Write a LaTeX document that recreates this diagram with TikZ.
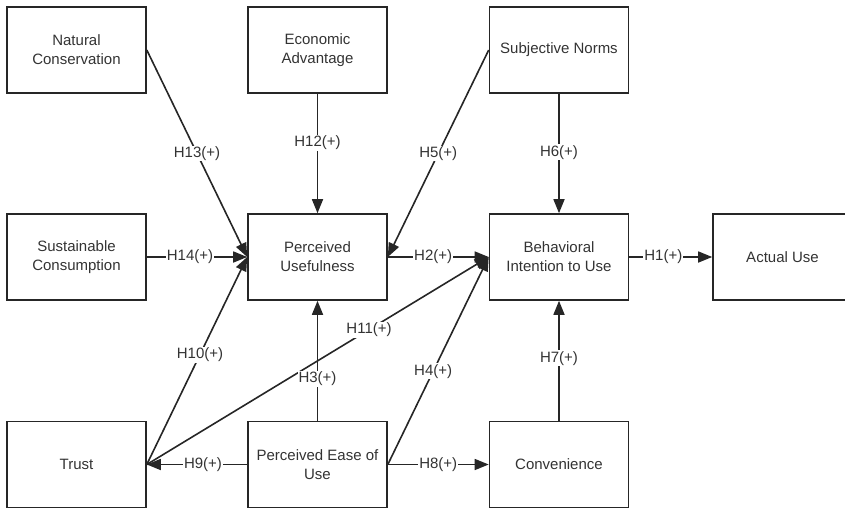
\documentclass[tikz,border=0pt]{standalone}
\usepackage{fontspec}
\setmainfont{Liberation Sans}
\usetikzlibrary{arrows.meta}
\tikzset{
  box/.style={draw=black!85, line width=1.6pt, minimum width=139pt, minimum height=86pt,
    align=center, text=black!80, inner sep=2pt, font=\fontsize{15}{19}\selectfont},
  arr/.style={draw=black!85, line width=1.6pt, -{Triangle[length=14pt,width=11pt]}},
  hyp/.style={fill=white, text=black!80, inner sep=1pt, font=\fontsize{15}{18}\selectfont},
}
\begin{document}
\begin{tikzpicture}[x=1pt,y=-1pt]
  \useasboundingbox (0,0) rectangle (845,509);
  \clip (0,0) rectangle (845,509);
  % Constructs
  \node[box] (nc) at (76.5,50) {Natural\\Conservation};
  \node[box] (ea) at (317.5,50) {Economic\\Advantage};
  \node[box] (sn) at (559,50) {Subjective Norms};
  \node[box] (sc) at (76.5,257) {Sustainable\\Consumption};
  \node[box] (pu) at (317.5,257) {Perceived\\Usefulness};
  \node[box] (bi) at (559,257) {Behavioral\\Intention to Use};
  \node[box] (au) at (782.5,257) {Actual Use};
  \node[box] (tr) at (76.5,464.5) {Trust};
  \node[box] (pe) at (317.5,464.5) {Perceived Ease of\\Use};
  \node[box] (cv) at (559,464.5) {Convenience};
  % Paths into perceived usefulness
  \draw[arr] (nc.east) -- node[hyp] {H13(+)} (pu.west);
  \draw[arr] (ea) -- node[hyp,pos=0.41] {H12(+)} (pu);
  \draw[arr] (sc) -- node[hyp,pos=0.43] {H14(+)} (pu);
  \draw[arr] (sn.west) -- node[hyp] {H5(+)} (pu.east);
  \draw[arr] (tr.east) -- node[hyp,pos=0.53] {H10(+)} (pu.west);
  \draw[arr] (tr.east) -- node[hyp,pos=0.65] {H11(+)} (bi.west);
  \draw[arr] (pe) -- node[hyp,pos=0.35] {H3(+)} (pu);
  % Paths into behavioral intention
  \draw[arr] (sn) -- node[hyp,pos=0.49] {H6(+)} (bi);
  \draw[arr] (pu) -- node[hyp,pos=0.45] {H2(+)} (bi);
  \draw[arr] (pe.east) -- node[hyp,pos=0.45] {H4(+)} (bi.west);
  \draw[arr] (cv) -- node[hyp,pos=0.52] {H7(+)} (bi);
  \draw[arr] (bi) -- node[hyp,pos=0.41] {H1(+)} (au);
  % Ease of use outward
  \draw[arr] (pe) -- node[hyp] {H8(+)} (cv);
  \draw[arr] (pe) -- node[hyp,pos=0.44] {H9(+)} (tr);
\end{tikzpicture}
\end{document}
